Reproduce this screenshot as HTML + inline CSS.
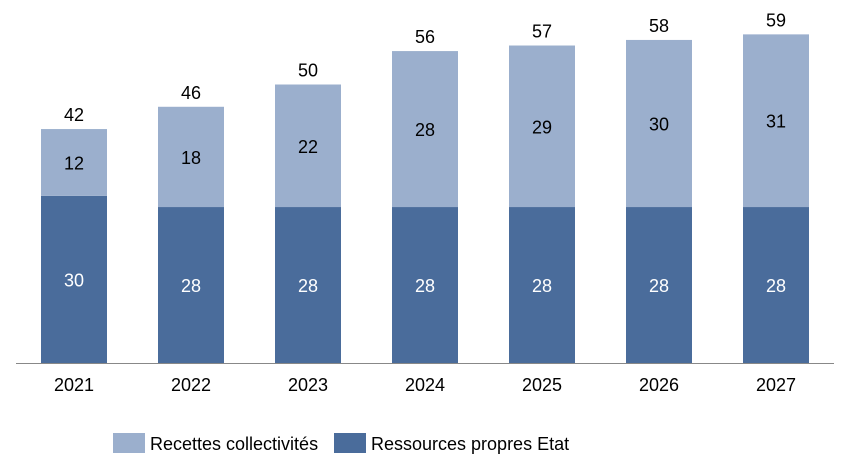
<!DOCTYPE html>
<html><head><meta charset="utf-8"><style>
body{margin:0;background:#fff;}
svg{display:block;font-family:"Liberation Sans",sans-serif;}
</style></head><body>
<svg id="chart" width="845" height="467"></svg>
<script>
const categories=["2021","2022","2023","2024","2025","2026","2027"];
const etat=[30,28,28,28,28,28,28];
const collectivites=[12,18,22,28,29,30,31];
const totals=[42,46,50,56,57,58,59];
const NS="http://www.w3.org/2000/svg";
const svg=document.getElementById("chart");
const base=363, scale=5.57, x0=74, step=117, bw=66;
const y=v=>base-v*scale;
const xc=i=>x0+i*step;
function mk(tag,attrs,parent){const e=document.createElementNS(NS,tag);for(const k in attrs)e.setAttribute(k,attrs[k]);(parent||svg).appendChild(e);return e;}
function txt(x,yy,s,fill){const t=mk("text",{x:x,y:yy,"text-anchor":"middle","font-size":"18",fill:fill});t.textContent=s;return t;}
categories.forEach((c,i)=>{
  const b1=mk("rect",{x:xc(i)-bw/2,y:y(etat[i]),width:bw,height:etat[i]*scale,fill:"#4A6C9B"});
  
  
  const top=etat[i]+collectivites[i];
  const b2=mk("rect",{x:xc(i)-bw/2,y:y(top),width:bw,height:collectivites[i]*scale,fill:"#9BAFCD"});
  
  
  const l1=txt(xc(i),y(etat[i]/2)+7,String(etat[i]),"#fff");
  
  
  const l2=txt(xc(i),y(etat[i]+collectivites[i]/2)+7,String(collectivites[i]),"#000");
  
  
  const l3=txt(xc(i),y(totals[i])-8,String(totals[i]),"#000");
  
  
  const l4=txt(xc(i),391,c,"#000");
  
  
});
const ax=mk("line",{x1:16,x2:834,y1:base+0.5,y2:base+0.5,stroke:"#888","stroke-width":1});


const g=mk("g",{});


const s1=mk("rect",{x:113,y:433,width:32,height:20,fill:"#9BAFCD"},g);


const t1=mk("text",{x:150,y:450,"font-size":"18",fill:"#000"},g);t1.textContent="Recettes collectivités";


const s2=mk("rect",{x:334,y:433,width:32,height:20,fill:"#4A6C9B"},g);


const t2=mk("text",{x:371,y:450,"font-size":"18",fill:"#000"},g);t2.textContent="Ressources propres Etat";


</script>
</body></html>
